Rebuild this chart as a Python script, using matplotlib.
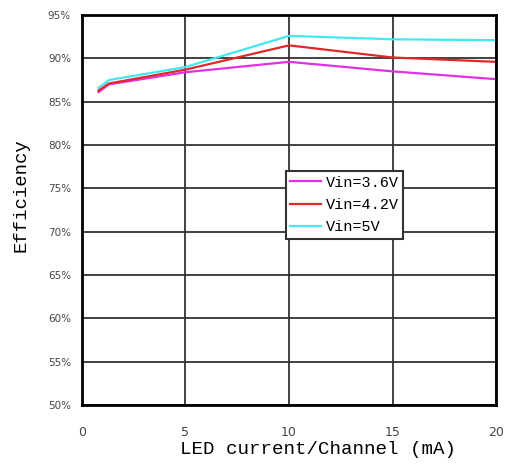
"""Efficiency vs LED current per channel, three input voltages."""
import matplotlib
matplotlib.use("Agg")
import matplotlib.pyplot as plt
from matplotlib.ticker import FuncFormatter

current = [0.8, 1.3, 5, 10, 15, 20]
eff_36 = [86.1, 87.0, 88.4, 89.6, 88.5, 87.6]
eff_42 = [86.3, 87.1, 88.7, 91.5, 90.1, 89.6]
eff_50 = [86.6, 87.5, 89.0, 92.6, 92.2, 92.1]
labels = ["Vin=3.6V", "Vin=4.2V", "Vin=5V"]
colors = ["#e030e8", "#e02828", "#40e8f0"]

fig = plt.figure(figsize=(5.08, 4.67), dpi=100)
ax = fig.add_axes([0.1614, 0.1328, 0.815, 0.835])

for y, lab, c in zip([eff_36, eff_42, eff_50], labels, colors):
    ax.plot(current, y, color=c, lw=1.6, label=lab)

ax.set_xlim(0, 20)
ax.set_ylim(50, 95)
ax.set_xticks([0, 5, 10, 15, 20])
ax.set_yticks(range(50, 96, 5))
ax.yaxis.set_major_formatter(FuncFormatter(lambda v, p: f"{v:.0f}%"))
ax.grid(True, color="#333333", lw=1.3)
ax.tick_params(axis="y", length=0, pad=8)
ax.tick_params(axis="x", length=0, pad=15)
for lab in ax.get_yticklabels():
    lab.set_fontsize(7.5)
    lab.set_color("#444444")
for lab in ax.get_xticklabels():
    lab.set_fontsize(9)
    lab.set_color("#444444")
for s in ax.spines.values():
    s.set_linewidth(2)
    s.set_color("black")

mono = "Liberation Mono"
ax.set_xlabel("LED current/Channel (mA)", family=mono, fontsize=13.8)
ax.xaxis.set_label_coords(0.57, -0.092)
ax.set_ylabel("Efficiency", family=mono, fontsize=13.7)
ax.yaxis.set_label_coords(-0.126, 0.538)

leg = ax.legend(loc="center", bbox_to_anchor=(0.634, 0.513),
                prop={"family": mono, "size": 11},
                frameon=True, fancybox=False, framealpha=1, edgecolor="#333333",
                handlelength=2.0, handletextpad=0.3, borderpad=0.3,
                labelspacing=0.55, borderaxespad=0)
leg.get_frame().set_linewidth(1.5)

fig.savefig("out.png", dpi=100)
